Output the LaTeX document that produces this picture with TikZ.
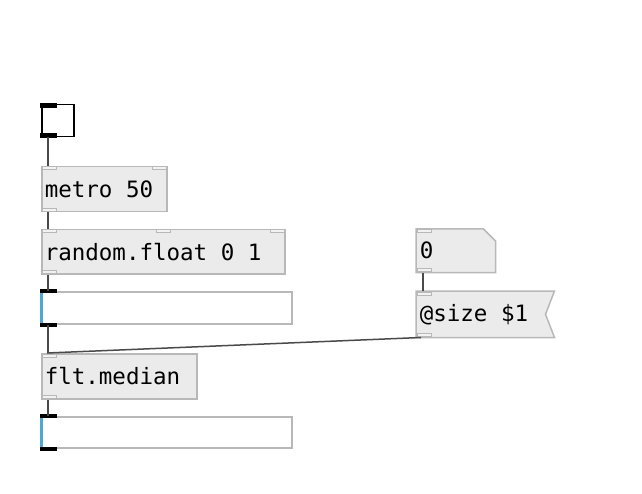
\documentclass[tikz,border=0pt]{standalone}
\usepackage{fontspec}
\newfontfamily\pdmono{DejaVu Sans Mono}
\usetikzlibrary{calc, backgrounds}
\definecolor{boxfill}{HTML}{EBEBEB}
\definecolor{boxline}{HTML}{B8B8B8}
\definecolor{portfill}{HTML}{F2F2F2}
\definecolor{wirecol}{HTML}{4A4A4A}
\definecolor{nbxblue}{HTML}{4FA8D2}
\newcommand{\pdgap}{\hspace*{0.602em}}

\begin{document}
\begin{tikzpicture}[x=1pt, y=-1pt,
  obj/.style={draw=boxline, line width=1.5pt, fill=boxfill, anchor=north west,
    inner xsep=3pt, inner ysep=0pt, align=left, font=\pdmono\fontsize{22.5}{22.5}\selectfont},
  txt/.style={obj, draw=none, fill=none},
  nbx/.style={draw=boxline, line width=1.5pt, fill=white, anchor=north west,
    minimum width=250, minimum height=32, inner sep=0pt},
  port/.style={draw=boxline, fill=portfill, line width=1pt},
  wire/.style={draw=wirecol, line width=1.5pt}]
  \useasboundingbox (0,0) rectangle (642,494);

  % toggle
  \node[draw=black, line width=1.5pt, fill=white, minimum size=32, inner sep=0pt,
    anchor=north west] (tgl) at (41,104) {};
  \fill ($(tgl.north west)+(-1,-1)$) rectangle ++(17,5);
  \fill ($(tgl.south west)+(-1,1)$) rectangle ++(17,-5);

  % objects
  \node[obj, text width=119, minimum height=45] (metro) at (41,166) {metro\pdgap50};
  \node[obj, text width=237, minimum height=44] (rnd) at (41,229) {random.float\pdgap0\pdgap1};
  \node[obj, text width=149, minimum height=45] (median) at (41,353) {flt.median};

  % number boxes
  \node[nbx] (num1) at (41,291) {};
  \node[nbx, minimum height=31] (num2) at (41,416) {};
  \foreach \n in {num1, num2} {
    \draw[nbxblue, line width=3pt] ($(\n.north west)+(0,1)$) -- ($(\n.south west)+(0,-1)$);
    \fill ($(\n.north west)+(-1,-2)$) rectangle ++(17,4);
    \fill ($(\n.south west)+(-1,2)$) rectangle ++(17,-4);
  }

  % atom and message
  \node[txt, text width=72, minimum height=42] (zero) at (416,229) {0};
  \node[txt, text width=131, minimum height=45] (msg) at (416,291) {@size\pdgap\$1};
  \begin{scope}[on background layer]
    \draw[draw=boxline, line width=1.5pt, fill=boxfill] (zero.north west)
      -- ($(zero.north east)+(-12,0)$) -- ($(zero.north east)+(0,12)$)
      -- (zero.south east) -- (zero.south west) -- cycle;
    \draw[draw=boxline, line width=1.5pt, fill=boxfill] (msg.north west)
      -- (msg.north east) -- ($(msg.east)+(-9,0)$)
      -- (msg.south east) -- (msg.south west) -- cycle;
  \end{scope}

  % inlets and outlets
  \foreach \n in {metro, rnd, median, zero, msg} {
    \draw[port] ($(\n.north west)+(1,1)$) rectangle ++(14,3);
    \draw[port] ($(\n.south west)+(1,-1)$) rectangle ++(14,-3);
  }
  \draw[port] ($(metro.north east)+(-15,1)$) rectangle ++(14,3);
  \draw[port] ($(rnd.north)+(-7,1)$) rectangle ++(14,3);
  \draw[port] ($(rnd.north east)+(-15,1)$) rectangle ++(14,3);

  % connections
  \draw[wire] ($(tgl.south west)+(7,0)$) -- ($(metro.north west)+(7,0)$);
  \draw[wire] ($(metro.south west)+(7,0)$) -- ($(rnd.north west)+(7,0)$);
  \draw[wire] ($(rnd.south west)+(7,0)$) -- ($(num1.north west)+(7,0)$);
  \draw[wire] ($(num1.south west)+(7,0)$) -- ($(median.north west)+(7,0)$);
  \draw[wire] ($(median.south west)+(7,0)$) -- ($(num2.north west)+(7,0)$);
  \draw[wire] ($(zero.south west)+(7,0)$) -- ($(msg.north west)+(7,0)$);
  \draw[wire] ($(msg.south west)+(5,0)$) -- ($(median.north west)+(6,0)$);
\end{tikzpicture}
\end{document}
